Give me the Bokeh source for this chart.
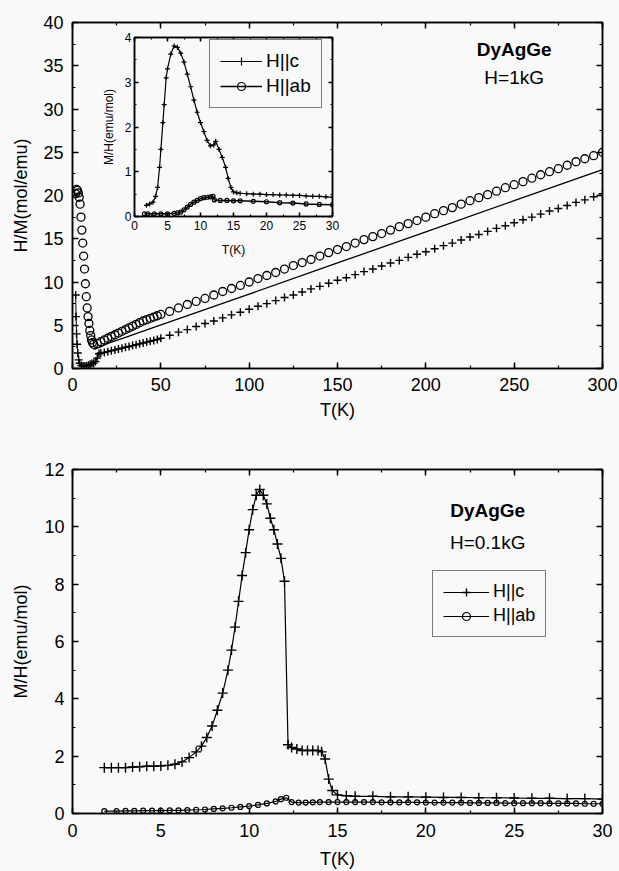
from bokeh.plotting import figure
from bokeh.models import (Range1d, LinearAxis, SingleIntervalTicker, Label,
                          Legend, LegendItem, GridBox)
from bokeh.embed import file_html
from bokeh.resources import INLINE

FONT = "Liberation Sans"
BG = "#f9f9f9"
INK = "black"

# ---------------- top panel: H/M (mol/emu), H = 1 kG ----------------
T_hi = [50, 55, 60, 65, 70, 75, 80, 85, 90, 95, 100, 105, 110, 115, 120, 125,
        130, 135, 140, 145, 150, 155, 160, 165, 170, 175, 180, 185, 190, 195,
        200, 205, 210, 215, 220, 225, 230, 235, 240, 245, 250, 255, 260, 265,
        270, 275, 280, 285, 290, 295, 300]

T_c_lo = [1.8, 2.0, 2.3, 2.6, 3.0, 3.5, 4.0, 5.0, 6.0, 7.0, 8, 9, 10, 11, 12,
          13, 14, 15, 16, 18, 20, 22, 24, 26, 28, 30, 32, 34, 36, 38, 40, 42,
          44, 46, 48]
HM_c_lo = [8.5, 6.0, 4.0, 2.8, 1.8, 1.0, 0.6, 0.35, 0.27, 0.28, 0.3, 0.38,
           0.48, 0.58, 0.62, 0.8, 1.2, 1.7, 1.8, 1.85, 1.95, 2.05, 2.15, 2.25,
           2.35, 2.45, 2.55, 2.65, 2.75, 2.85, 2.95, 3.05, 3.15, 3.25, 3.35]
HM_c_hi = [3.5, 3.85, 4.2, 4.5, 4.85, 5.2, 5.5, 5.85, 6.2, 6.5, 6.85, 7.2, 7.5,
           7.85, 8.2, 8.5, 8.85, 9.2, 9.5, 9.85, 10.2, 10.5, 10.85, 11.2, 11.5,
           11.85, 12.2, 12.5, 12.85, 13.2, 13.5, 13.85, 14.2, 14.5, 14.85, 15.2,
           15.5, 15.85, 16.2, 16.5, 16.85, 17.2, 17.5, 17.85, 18.2, 18.5, 18.85,
           19.2, 19.5, 19.85, 20.2]

T_ab_lo = [1.8, 2.3, 2.8, 3.3, 3.8, 4.3, 4.8, 5.3, 5.8, 6.3, 6.8, 7.3, 7.8,
           8.3, 8.8, 9.3, 9.8, 10.3, 10.8, 11.3, 12, 14, 16, 18, 20, 22, 24,
           26, 28, 30, 32, 34, 36, 38, 40, 42, 44, 46, 48]
HM_ab_lo = [20.2, 20.7, 20.6, 20.3, 19.8, 19.0, 17.5, 16.0, 14.5, 13.0, 11.5,
            9.8, 8.3, 7.0, 6.0, 5.2, 4.4, 3.8, 3.3, 3.0, 2.8, 2.9, 3.1, 3.3,
            3.5, 3.7, 3.9, 4.1, 4.3, 4.5, 4.7, 4.9, 5.1, 5.3, 5.5, 5.65, 5.8,
            5.95, 6.1]
HM_ab_hi = [6.25, 6.6, 7.0, 7.4, 7.75, 8.1, 8.5, 8.9, 9.25, 9.6, 10.0, 10.4,
            10.75, 11.1, 11.5, 11.9, 12.25, 12.6, 13.0, 13.4, 13.75, 14.1, 14.5,
            14.9, 15.25, 15.6, 16.0, 16.4, 16.75, 17.1, 17.5, 17.9, 18.25, 18.6,
            19.0, 19.4, 19.75, 20.1, 20.5, 20.9, 21.25, 21.6, 22.0, 22.4, 22.75,
            23.1, 23.5, 23.9, 24.25, 24.6, 25.0]

T_line = [12, 15, 20, 30, 44, 100, 150, 200, 250, 300]
HM_line = [2.2, 2.4, 2.9, 3.6, 4.6, 8.6, 12.2, 15.8, 19.4, 23.0]

# ---------------- inset: M/H (emu/mol), H = 1 kG ----------------
T_c_in = [1.8, 2.3, 2.8, 3.2, 3.5, 3.8, 4.0, 4.3, 4.5, 4.8, 5.0, 5.5, 6.0, 6.5,
          7.0, 7.5, 8.0, 8.5, 9.0, 9.5, 10.0, 10.5, 11.0, 11.5, 12.0, 12.3,
          12.8, 13.3, 13.8, 14.2, 14.6, 15.0, 15.5, 16.0, 17, 18, 19, 20, 21,
          22, 23, 24, 25, 26, 27, 28, 29, 30]
MH_c_in = [0.25, 0.28, 0.32, 0.45, 0.65, 1.1, 1.5, 2.1, 2.5, 3.1, 3.3, 3.63,
           3.81, 3.78, 3.65, 3.45, 3.18, 2.9, 2.6, 2.33, 2.1, 1.9, 1.7, 1.58,
           1.6, 1.68, 1.5, 1.32, 1.1, 0.85, 0.65, 0.55, 0.53, 0.52, 0.51, 0.5,
           0.5, 0.49, 0.49, 0.48, 0.48, 0.47, 0.47, 0.46, 0.45, 0.45, 0.44, 0.43]
T_ab_in = [1.5, 2, 3, 4, 5, 6, 6.5, 7.0, 7.5, 8.0, 8.5, 9.0, 9.5, 10, 10.5, 11,
           11.5, 11.9, 12.1, 13, 14, 15, 16, 18, 20, 22, 24, 26, 28, 30]
MH_ab_in = [0.06, 0.06, 0.06, 0.06, 0.06, 0.07, 0.08, 0.1, 0.15, 0.21, 0.27,
            0.32, 0.36, 0.4, 0.42, 0.43, 0.44, 0.45, 0.37, 0.36, 0.36, 0.35,
            0.35, 0.34, 0.33, 0.31, 0.3, 0.28, 0.27, 0.26]

# ---------------- bottom panel: M/H (emu/mol), H = 0.1 kG ----------------
T_c_b = [1.8, 2.2, 2.6, 3.0, 3.4, 3.8, 4.2, 4.6, 5.0, 5.4, 5.8, 6.2, 6.6, 7.0,
         7.3, 7.6, 7.9, 8.2, 8.5, 8.8, 9.0, 9.2, 9.4, 9.6, 9.8, 10.0, 10.2,
         10.4, 10.6, 10.8, 11.0, 11.2, 11.4, 11.6, 11.8, 12.0, 12.2, 12.4, 12.7,
         13.0, 13.3, 13.6, 13.9, 14.1, 14.3, 14.5, 14.7, 15.0, 15.5, 16, 17, 18,
         19, 20, 21, 22, 23, 24, 25, 26, 27, 28, 29, 30]
MH_c_b = [1.6, 1.6, 1.6, 1.6, 1.62, 1.63, 1.65, 1.65, 1.66, 1.68, 1.72, 1.8,
          1.95, 2.15, 2.35, 2.65, 3.05, 3.6, 4.2, 5.0, 5.7, 6.5, 7.4, 8.3, 9.1,
          9.9, 10.6, 11.1, 11.3, 11.1, 10.8, 10.3, 9.9, 9.4, 8.9, 8.1, 2.4, 2.3,
          2.25, 2.2, 2.2, 2.2, 2.2, 2.15, 1.9, 1.2, 0.8, 0.65, 0.62, 0.6, 0.6,
          0.58, 0.58, 0.57, 0.56, 0.56, 0.55, 0.55, 0.54, 0.53, 0.53, 0.52,
          0.52, 0.5]
T_ab_b = [1.8, 2.5, 3, 3.5, 4, 4.5, 5, 5.5, 6, 6.5, 7, 7.5, 8, 8.5, 9, 9.5, 10,
          10.5, 11, 11.5, 11.8, 12.1, 12.4, 12.8, 13.2, 13.6, 14, 14.5, 15,
          15.5, 16, 16.5, 17, 17.5, 18, 18.5, 19, 19.5, 20, 20.5, 21, 21.5, 22,
          22.5, 23, 23.5, 24, 24.5, 25, 25.5, 26, 26.5, 27, 27.5, 28, 28.5, 29,
          29.5, 30]
MH_ab_b = [0.08, 0.08, 0.09, 0.09, 0.1, 0.1, 0.1, 0.11, 0.11, 0.12, 0.13, 0.14,
           0.16, 0.18, 0.2, 0.23, 0.26, 0.3, 0.35, 0.42, 0.5, 0.55, 0.4, 0.38,
           0.38, 0.39, 0.4, 0.4, 0.4, 0.4, 0.4, 0.4, 0.4, 0.39, 0.39, 0.39,
           0.39, 0.39, 0.38, 0.38, 0.38, 0.38, 0.38, 0.37, 0.37, 0.37, 0.37,
           0.36, 0.36, 0.36, 0.36, 0.36, 0.35, 0.35, 0.35, 0.35, 0.34, 0.34,
           0.34]

LEG_LABELS = ["H||c", "H||ab"]


def make_fig(w, h, xr, yr, left, right, top, bottom, transparent=False):
    p = figure(width=w, height=h, x_range=Range1d(*xr), y_range=Range1d(*yr),
               output_backend="svg", toolbar_location=None,
               min_border_left=left, min_border_right=right,
               min_border_top=top, min_border_bottom=bottom,
               background_fill_color=BG, border_fill_color=BG)
    p.xgrid.visible = False
    p.ygrid.visible = False
    p.outline_line_color = INK
    p.outline_line_width = 1.5
    if transparent:
        p.background_fill_alpha = 0
        p.border_fill_alpha = 0
    return p


def style_axis(ax, interval, font_px, standoff, tick_in, minor_in,
               label=None, label_px=None, label_standoff=0, show=True):
    ax.ticker = SingleIntervalTicker(interval=interval, num_minor_ticks=2)
    ax.axis_line_color = INK
    ax.axis_line_width = 1.5
    ax.major_tick_in = tick_in
    ax.major_tick_out = 0
    ax.minor_tick_in = minor_in
    ax.minor_tick_out = 0
    ax.major_tick_line_color = INK
    ax.minor_tick_line_color = INK
    ax.major_tick_line_width = 1.5
    ax.minor_tick_line_width = 1.2
    ax.major_label_text_font = FONT
    if show:
        ax.major_label_text_color = INK
        ax.major_label_text_font_size = f"{font_px}px"
        ax.major_label_standoff = standoff
    else:
        # mirrored axis: ticks only, labels not painted
        ax.major_label_text_color = None
        ax.major_label_text_font_size = "1px"
        ax.major_label_standoff = 0
    if label:
        ax.axis_label = label
        ax.axis_label_text_font = FONT
        ax.axis_label_text_font_size = f"{label_px}px"
        ax.axis_label_text_font_style = "normal"
        ax.axis_label_text_color = INK
        ax.axis_label_standoff = label_standoff


def add_mirrors(p, xint, yint, tick_in, minor_in):
    top = LinearAxis()
    style_axis(top, xint, 0, 0, tick_in, minor_in, show=False)
    p.add_layout(top, "above")
    right = LinearAxis()
    style_axis(right, yint, 0, 0, tick_in, minor_in, show=False)
    p.add_layout(right, "right")


def make_legend(items, loc, font_px, glyph_w):
    leg = Legend(items=items, location=loc, orientation="vertical",
                 label_text_font=FONT, label_text_font_size=f"{font_px}px",
                 label_text_color=INK, glyph_width=glyph_w, glyph_height=20,
                 label_standoff=4, padding=10, spacing=3, margin=0,
                 border_line_color=INK, border_line_width=1.5,
                 background_fill_color=BG, background_fill_alpha=1)
    return leg


# ================= top main figure =================
p1 = make_fig(619, 430, (0, 300), (0, 40), 72, 17, 22, 62)
style_axis(p1.xaxis[0], 50, 18, 9, 6, 3, "T(K)", 18, 6)
style_axis(p1.yaxis[0], 5, 18, 9, 6, 3, "H/M(mol/emu)", 18, 9)
add_mirrors(p1, 50, 5, 6, 3)

p1.line(T_line, HM_line, line_color=INK, line_width=1.3)
p1.line(T_c_lo, HM_c_lo, line_color=INK, line_width=1)
p1.scatter(T_c_lo + T_hi, HM_c_lo + HM_c_hi, marker="cross", size=8,
           line_color=INK, line_width=1.4)
p1.scatter(T_ab_lo + T_hi, HM_ab_lo + HM_ab_hi, marker="circle", size=8,
           line_color=INK, line_width=1.3, fill_color=None)

p1.add_layout(Label(x=250, y=36.9, text="DyAgGe", text_font=FONT,
                    text_font_size="19px", text_font_style="bold",
                    text_align="center", text_baseline="middle",
                    text_color=INK))
p1.add_layout(Label(x=250, y=33.6, text="H=1kG", text_font=FONT,
                    text_font_size="19px", text_align="center",
                    text_baseline="middle", text_color=INK))

# ================= inset figure =================
pin = make_fig(242, 232, (0, 30), (0, 4), 35, 8, 7, 46, transparent=True)
style_axis(pin.xaxis[0], 5, 12, 4, 4, 2, "T(K)", 12, 10)
style_axis(pin.yaxis[0], 1, 12, 3, 4, 2, "M/H(emu/mol)", 12, 6)
add_mirrors(pin, 5, 1, 4, 2)

lc_in = pin.line(T_c_in, MH_c_in, line_color=INK, line_width=1.2)
sc_in = pin.scatter(T_c_in, MH_c_in, marker="cross", size=5, line_color=INK,
                    line_width=1.2)
lab_in = pin.line(T_ab_in, MH_ab_in, line_color=INK, line_width=1.5)
sab_in = pin.scatter(T_ab_in, MH_ab_in, marker="circle", size=4,
                     line_color=INK, line_width=1.2, fill_color=None)
pin.add_layout(make_legend(
    [LegendItem(label=LEG_LABELS[0], renderers=[lc_in, sc_in]),
     LegendItem(label=LEG_LABELS[1], renderers=[lab_in, sab_in])],
    (75, 108), 19, 42))

# ================= bottom figure =================
p2 = make_fig(619, 441, (0, 30), (0, 12), 72, 16, 39, 57)
style_axis(p2.xaxis[0], 5, 18, 10, 6, 3, "T(K)", 18, 9)
style_axis(p2.yaxis[0], 2, 18, 8, 6, 3, "M/H(emu/mol)", 18, 10)
add_mirrors(p2, 5, 2, 6, 3)

lc_b = p2.line(T_c_b, MH_c_b, line_color=INK, line_width=1.2)
sc_b = p2.scatter(T_c_b, MH_c_b, marker="cross", size=10, line_color=INK,
                  line_width=1.4)
lab_b = p2.line(T_ab_b, MH_ab_b, line_color=INK, line_width=1.2)
sab_b = p2.scatter(T_ab_b, MH_ab_b, marker="circle", size=5, line_color=INK,
                   line_width=1.2, fill_color=None)
p2.add_layout(make_legend(
    [LegendItem(label=LEG_LABELS[0], renderers=[lc_b, sc_b]),
     LegendItem(label=LEG_LABELS[1], renderers=[lab_b, sab_b])],
    (360, 176), 18, 46))

p2.add_layout(Label(x=23.5, y=10.57, text="DyAgGe", text_font=FONT,
                    text_font_size="19px", text_font_style="bold",
                    text_align="center", text_baseline="middle",
                    text_color=INK))
p2.add_layout(Label(x=23.5, y=9.46, text="H=0.1kG", text_font=FONT,
                    text_font_size="19px", text_align="center",
                    text_baseline="middle", text_color=INK))

# ================= layout: inset overlaid on the top figure =================
grid = GridBox(children=[(p1, 0, 0, 3, 3), (pin, 1, 1), (p2, 3, 0, 1, 3)],
               rows=["30px", "232px", "168px", "441px"],
               cols=["98px", "242px", "279px"], spacing=0,
               styles={"background-color": BG})

open("out.html", "w").write(file_html(grid, INLINE))
